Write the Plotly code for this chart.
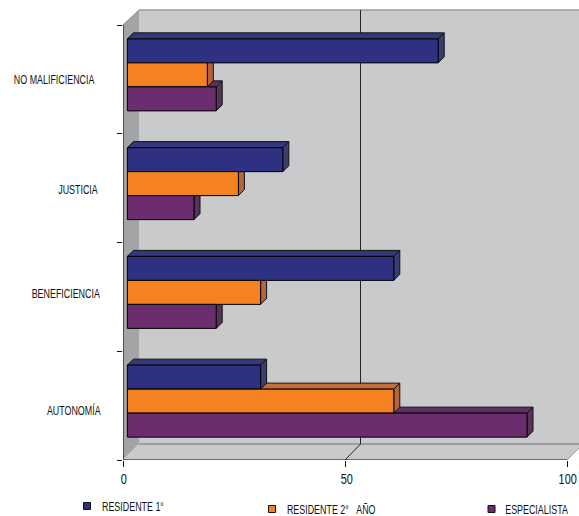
import plotly.graph_objects as go

# Survey scores per principle, listed from the bottom row to the top row
categories = ["AUTONOMÍA", "BENEFICIENCIA", "JUSTICIA", "NO MALIFICIENCIA"]
residente_1 = [30, 60, 35, 70]
residente_2 = [60, 30, 25, 18]
especialista = [90, 20, 15, 20]
series_names = ["RESIDENTE 1°", "RESIDENTE 2°   AÑO", "ESPECIALISTA"]
x_ticks = [0, 50, 100]

FONT = "Liberation Sans, sans-serif"

# Canvas and scale
W, H = 579, 516
LEFT, BOTTOM_PX = 123, 460
PLOT_H = BOTTOM_PX
PX_PER_X = 4.44
PX_PER_ROW = 108.75
x_max = (W - LEFT) / PX_PER_X
y_max = BOTTOM_PX / PX_PER_ROW


def dx(px):
    return px / PX_PER_X


def dy(px):
    return px / PX_PER_ROW


def paper_y(y_px):
    return (BOTTOM_PX - y_px) / PLOT_H


def paper_x(x_px):
    return (x_px - LEFT) / (W - LEFT)


# Pseudo-3D settings
DEPTH_X, DEPTH_Y = dx(6), dy(6)
WALL_X, WALL_Y = dx(16), dy(16)
GRID_X = dx(15.5)
BAR_BASE = dx(4.4)
BAR_H = dy(24)
ROW_SHIFT = dy(4.5)
WALL_TOP = y_max - dy(10)

# Offset of each series from the row centre: first series on top
offsets = [BAR_H, 0, -BAR_H]
values = [residente_1, residente_2, especialista]
front = ["#2e3182", "#f58220", "#6c2d6f"]
top_face = ["#35377a", "#c4703a", "#5f2f66"]
side_face = ["#3b3d70", "#b2653a", "#573358"]

fig = go.Figure()

# Depth faces go first so the overlaid front faces hide what they should
for s in (2, 1, 0):
    tx, ty, sx, sy = [], [], [], []
    for row, v in enumerate(values[s]):
        yc = row + 0.5 + ROW_SHIFT + offsets[s]
        y0, y1 = yc - BAR_H / 2, yc + BAR_H / 2
        x0, x1 = BAR_BASE, BAR_BASE + v
        tx += [x0, x0 + DEPTH_X, x1 + DEPTH_X, x1, x0, None]
        ty += [y1, y1 + DEPTH_Y, y1 + DEPTH_Y, y1, y1, None]
        sx += [x1, x1 + DEPTH_X, x1 + DEPTH_X, x1, x1, None]
        sy += [y1, y1 + DEPTH_Y, y0 + DEPTH_Y, y0, y1, None]
    for px, py, color in ((tx, ty, top_face[s]), (sx, sy, side_face[s])):
        fig.add_trace(go.Scatter(
            x=px, y=py, mode="lines", fill="toself", fillcolor=color,
            line=dict(color="#111111", width=1), hoverinfo="skip", showlegend=False,
        ))

# Front faces on the overlay axes
for s in range(3):
    fig.add_trace(go.Bar(
        y=[r + 0.5 + ROW_SHIFT + offsets[s] for r in range(len(categories))],
        x=values[s], base=BAR_BASE, width=BAR_H, orientation="h",
        name=series_names[s], marker=dict(color=front[s], line=dict(color="#000000", width=1)),
        xaxis="x2", yaxis="y2", showlegend=False,
    ))

wall = "#c9cacc"
side_wall = "#a3a4a6"
shapes = [
    # back wall
    dict(type="rect", x0=WALL_X, x1=x_max, y0=WALL_Y, y1=WALL_TOP,
         fillcolor=wall, line=dict(width=0), layer="below"),
    dict(type="line", x0=WALL_X, x1=x_max, y0=WALL_TOP, y1=WALL_TOP,
         line=dict(color="#9a9a9a", width=1.5), layer="below"),
    # left wall
    dict(type="path", path=f"M 0 0 L {WALL_X} {WALL_Y} L {WALL_X} {WALL_TOP} L 0 4 Z",
         fillcolor=side_wall, line=dict(width=0), layer="below"),
    # floor
    dict(type="path", path=f"M 0 0 L {WALL_X} {WALL_Y} L {x_max} {WALL_Y} L {x_max} {dy(12)} L 100 0 Z",
         fillcolor=wall, line=dict(width=0), layer="below"),
    dict(type="line", x0=WALL_X, x1=x_max, y0=WALL_Y, y1=WALL_Y,
         line=dict(color="#9c9c9c", width=2), layer="below"),
    dict(type="line", x0=100, x1=x_max, y0=0, y1=dy(12),
         line=dict(color="#9c9c9c", width=1), layer="below"),
    dict(type="line", x0=0, x1=WALL_X, y0=4, y1=WALL_TOP,
         line=dict(color="#8a8a8a", width=1), layer="below"),
    # gridline running up the back wall and across the floor
    dict(type="path", path=f"M 50 0 L {50 + GRID_X} {WALL_Y} L {50 + GRID_X} {WALL_TOP}",
         line=dict(color="#222222", width=1), layer="below"),
    # axis lines
    dict(type="line", x0=0, x1=100, y0=0, y1=0, line=dict(color="#111111", width=1.2)),
    dict(type="line", x0=0, x1=0, y0=0, y1=4, line=dict(color="#333333", width=1.5)),
]

annotations = []

# Row labels, centred on their own positions
label_px = [(74, 410), (66, 293), (77.5, 190), (54, 79)]
for name, (cx, y_px) in zip(categories, label_px):
    annotations.append(dict(
        text=name, xref="paper", yref="paper", x=paper_x(cx), y=paper_y(y_px),
        xanchor="center", yanchor="middle", showarrow=False, borderpad=0,
        font=dict(family=FONT, size=13.5, color="#111111"),
    ))

# Value axis labels
for tick, cx in zip(x_ticks, (124, 347, 567.5)):
    annotations.append(dict(
        text=str(tick), xref="paper", yref="paper", x=paper_x(cx), y=paper_y(479),
        xanchor="center", yanchor="middle", showarrow=False, borderpad=0,
        font=dict(family=FONT, size=14, color="#111111"),
    ))

# Legend row: swatch and text placed individually
legend_px = [(87, 132.5, 506), (272, 330.5, 509), (491.5, 536.5, 509)]
for s, (mx, cx, ly) in enumerate(legend_px):
    shapes.append(dict(
        type="rect", xref="paper", yref="paper",
        x0=paper_x(mx - 3.5), x1=paper_x(mx + 3.5),
        y0=paper_y(ly + 3.5), y1=paper_y(ly - 3.5),
        fillcolor=front[s], line=dict(color="#111111", width=1),
    ))
    annotations.append(dict(
        text=series_names[s].replace("   ", "&nbsp;&nbsp;&nbsp;"),
        xref="paper", yref="paper", x=paper_x(cx), y=paper_y(ly),
        xanchor="center", yanchor="middle", showarrow=False, borderpad=0,
        font=dict(family=FONT, size=13.5, color="#111111"),
    ))

axis_x = dict(range=[0, x_max], showgrid=False, zeroline=False, showline=False)
axis_y = dict(range=[0, y_max], showgrid=False, zeroline=False, showline=False)

fig.update_layout(
    width=W, height=H, margin=dict(l=LEFT, r=0, t=0, b=H - BOTTOM_PX, pad=0),
    paper_bgcolor="white", plot_bgcolor="white", barmode="overlay",
    showlegend=False, shapes=shapes, annotations=annotations,
    font=dict(family=FONT, color="#111111"),
    xaxis=dict(**axis_x, showticklabels=False, tickmode="array", tickvals=x_ticks,
               ticks="outside", ticklen=6, tickcolor="#111111"),
    yaxis=dict(**axis_y, showticklabels=False, tickmode="array", tickvals=[0, 1, 2, 3, 4],
               ticks="outside", ticklen=5, tickcolor="#111111"),
    xaxis2=dict(**axis_x, overlaying="x", visible=False),
    yaxis2=dict(**axis_y, overlaying="y", visible=False),
)

# The labels are set in a condensed cut: narrow every text run about its centre
condense = """
document.querySelectorAll('.annotation-text').forEach(function (t) {
  var size = parseFloat(t.style.fontSize);
  var scale = size < 14 ? 0.66 : 0.78;
  var cx = parseFloat(t.getAttribute('x')) || 0;
  t.setAttribute('transform', 'translate(' + cx + ' 0) scale(' + scale + ' 1) translate(' + (-cx) + ' 0)');
});
"""

fig.write_html("out.html", config=dict(displayModeBar=False), post_script=condense)
